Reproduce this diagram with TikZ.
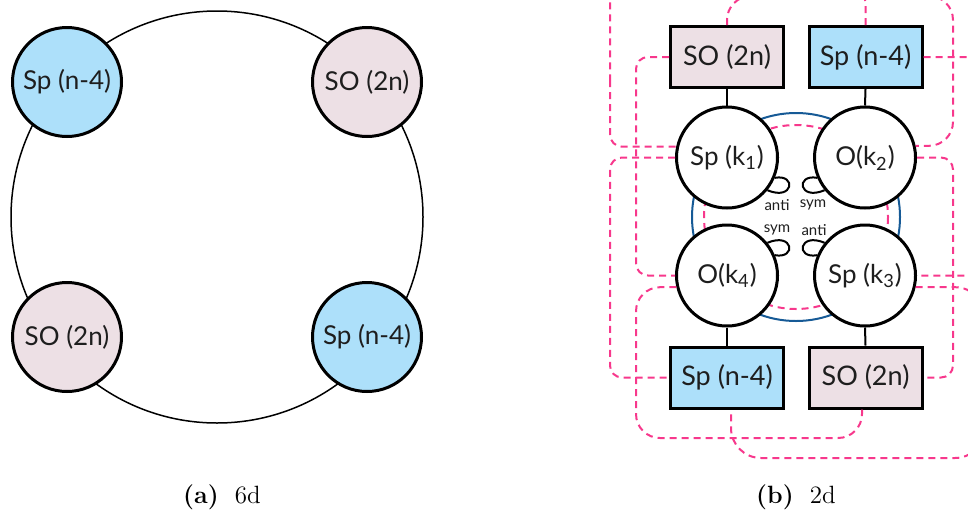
\documentclass[tikz,border=0pt]{standalone}
\usepackage{fontspec}
\newfontfamily\nodefont{Lato}
\usetikzlibrary{calc}
\definecolor{spblue}{RGB}{173,224,250}
\definecolor{sopink}{RGB}{237,224,229}
\definecolor{dashpink}{RGB}{247,56,140}
\definecolor{ringblue}{RGB}{22,90,150}
\definecolor{txt}{RGB}{30,30,30}
\begin{document}
\begin{tikzpicture}[x=0.5pt,y=-0.5pt,
  bignode/.style={circle,draw=black,line width=1.5pt,minimum size=54.5pt,inner sep=0pt,
    font=\nodefont\fontsize{13}{15}\selectfont,text=txt},
  gauge/.style={circle,draw=black,line width=1.5pt,fill=white,minimum size=50.5pt,inner sep=0pt,
    font=\nodefont\fontsize{13}{15}\selectfont,text=txt},
  flavor/.style={rectangle,draw=black,line width=1.5pt,minimum width=56.5pt,minimum height=30.5pt,inner sep=0pt,
    font=\nodefont\fontsize{13.5}{15}\selectfont,text=txt},
  leg/.style={line width=1pt,black},
  selfloop/.style={line width=1pt,black},
  pinkdash/.style={dashpink,line width=1pt,dash pattern=on 3.5pt off 2.5pt,rounded corners=6pt},
  small/.style={font=\nodefont\fontsize{7.5}{9}\selectfont,text=txt},
  capt/.style={font=\fontsize{12.5}{14}\selectfont}
]
\useasboundingbox (0,0) rectangle (968,509);
\begin{scope}
\clip (0,0) rectangle (968,509);
% ---------------- (a) 6d ----------------
\draw[line width=0.75pt] (217,217) circle[radius=206];
\node[bignode,fill=spblue] (a1) at (67,82) {Sp (n-4)};
\node[bignode,fill=sopink] (a2) at (367,82) {SO (2n)};
\node[bignode,fill=sopink] (a3) at (67,337) {SO (2n)};
\node[bignode,fill=spblue] (a4) at (367,337) {Sp (n-4)};
\node[capt] (capa) at (222,497) {\textbf{(a)}\hspace{0.65em}6d};
% ---------------- (b) 2d ----------------
\draw[ringblue,line width=1pt] (796,217) circle[radius=104];
\draw[dashpink,line width=1pt,dash pattern=on 3.5pt off 2.5pt] (796,217) circle[radius=92];
\node[flavor,fill=sopink] (tl) at (727,57) {SO (2n)};
\node[flavor,fill=spblue] (tr) at (865.5,57) {Sp (n-4)};
\node[flavor,fill=spblue] (bl) at (727,377.5) {Sp (n-4)};
\node[flavor,fill=sopink] (br) at (865.5,377.5) {SO (2n)};
\node[gauge] (k1) at (727,157.5) {Sp (k\textsubscript{1})};
\node[gauge] (k2) at (865,157.5) {O(k\textsubscript{2})};
\node[gauge] (k4) at (727,275.5) {O(k\textsubscript{4})};
\node[gauge] (k3) at (865,275.5) {Sp (k\textsubscript{3})};
\coordinate (aMid) at (610,80);
% outer dashed connections
\draw[pinkdash,rounded corners=18pt] (tr.north) |- (610,-30) -- (aMid);
\draw[pinkdash] (aMid) |- (k1.168);
\draw[pinkdash,rounded corners=12pt] (tl.north) |- (953,-4) |- (k2.13);
\draw[pinkdash] (tl.west) -| (636,275.5) -- (k4.west);
\draw[pinkdash] (tr.east) -| (990,275.5) -- (k3.east);
\draw[pinkdash] (k1.west) -| (610,377.5) -- (bl.west);
\draw[pinkdash] (k2.east) -| (953,377.5) -- (br.east);
\draw[pinkdash,rounded corners=12pt] (k4.193) -| (636,438) -| ($(br.south)+(-3.5,0)$);
\draw[pinkdash,rounded corners=15pt] (k3.-13) -| (985,458) -| ($(bl.south)+(4,0)$);
% legs
\draw[leg] (tl.south) -- (k1.north);
\draw[leg] (tr.south) -- (k2.north);
\draw[leg] (k4.south) -- (bl.north);
\draw[leg] (k3.south) -- (br.north);
% self loops
\draw[selfloop] (k1.-23) .. controls +(22,-4) and +(26,11) .. (k1.-39);
\draw[selfloop] (k2.-157) .. controls +(-22,-4) and +(-26,11) .. (k2.-141);
\draw[selfloop] (k4.23) .. controls +(22,4) and +(26,-11) .. (k4.39);
\draw[selfloop] (k3.157) .. controls +(-22,4) and +(-26,-11) .. (k3.141);
\node[small] (l1) at (777,205) {anti};
\node[small] (l2) at (813,205) {sym};
\node[small] (l3) at (777,230) {sym};
\node[small] (l4) at (814,230) {anti};
\node[capt] (capb) at (796,497) {\textbf{(b)}\hspace{0.65em}2d};
\end{scope}
\end{tikzpicture}
\end{document}
